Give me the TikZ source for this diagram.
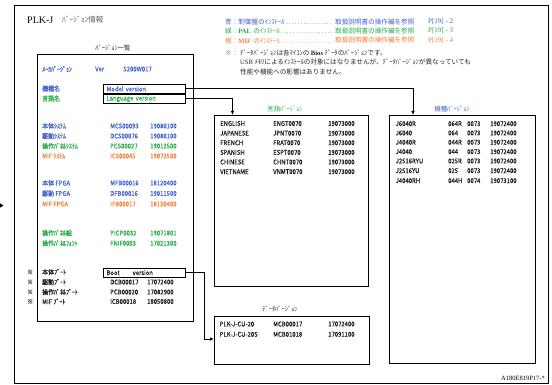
\documentclass[tikz,border=0pt]{standalone}
\usepackage{fontspec}
\setmainfont{Noto Sans CJK JP}
\newfontfamily\nar[FakeStretch=0.9,FakeBold=0.2]{Noto Sans CJK JP}
\newfontfamily\lgf{Noto Sans CJK JP}
\newfontfamily\ser{Liberation Serif}
\usetikzlibrary{arrows.meta}
\definecolor{blueT}{RGB}{65,95,205}
\definecolor{greenT}{RGB}{35,170,70}
\definecolor{orangeT}{RGB}{245,125,50}
\definecolor{grayT}{RGB}{90,90,90}
\begin{document}
\begin{tikzpicture}[x=1pt,y=-1pt,
  txt/.style={anchor=west,inner sep=0pt,font=\nar\fontsize{6.6}{7}\selectfont},
  bl/.style={txt,text=blueT},
  gr/.style={txt,text=greenT},
  og/.style={txt,text=orangeT},
  dk/.style={txt,text=black!90},
  lg/.style={anchor=west,inner sep=0pt,font=\lgf\fontsize{6.6}{7}\selectfont},
  bigbox/.style={draw,line width=1.1pt,anchor=north west,inner sep=0pt},
  vbox/.style={draw,line width=0.9pt,anchor=north west,inner xsep=3pt,inner ysep=0pt,
    text width=76pt,minimum height=8.7pt,align=left,font=\nar\fontsize{6.6}{7}\selectfont},
  boxcap/.style={inner sep=0pt,font=\lgf\fontsize{6.4}{7}\selectfont},
  arr/.style={line width=1pt,-{Latex[length=4pt,width=3.6pt]}},
]
\useasboundingbox (0,0) rectangle (552,385);
% outer frame
\node[draw,line width=1.4pt,anchor=north west,inner sep=0pt,minimum width=534pt,minimum height=378pt] (frame) at (14,5) {};
% small arrowhead at left edge
\coordinate (lefttip) at (3.5,205.5);
\fill (lefttip) -- ++(-3.5,-2.2) -- ++(0,4.4) -- cycle;

% title
\node[anchor=west,inner sep=0pt,font=\ser\fontsize{10}{12}\selectfont] (title) at (27,20) {PLK-J};
\node[anchor=west,inner sep=0pt,text=grayT,font=\lgf\fontsize{7.5}{9}\selectfont] (title2) at (62,20) {ﾊﾞｰｼﾞｮﾝ情報};

% legend
\node[lg,text=blueT,text width=108pt] (lg1) at (225,22) {青：制御盤のｲﾝｽﾄｰﾙ\dotfill};
\node[lg,text=greenT,text width=108pt] (lg2) at (225,31) {緑：\textbf{\ser PAL} のｲﾝｽﾄｰﾙ\dotfill};
\node[lg,text=orangeT,text width=108pt] (lg3) at (225,40.5) {橙：\textbf{\ser MIF} のｲﾝｽﾄｰﾙ\dotfill};
\node[lg,text=blueT] (lr1) at (335,22) {取扱説明書の操作編を参照};
\node[lg,text=greenT] (lr2) at (335,31) {取扱説明書の操作編を参照};
\node[lg,text=orangeT] (lr3) at (335,40.5) {取扱説明書の操作編を参照};
\node[lg,text=blueT,font=\ser\fontsize{7}{8}\selectfont] (lp1) at (428,22) {P[19] - 2};
\node[lg,text=greenT,font=\ser\fontsize{7}{8}\selectfont] (lp2) at (428,31) {P[19] - 3};
\node[lg,text=orangeT,font=\ser\fontsize{7}{8}\selectfont] (lp3) at (428,40.5) {P[19] - 4};
\node[lg,text=grayT] (nmark) at (225,53) {※：};
\node[lg,text=black!85] (n1) at (240,53) {ﾃﾞｰﾀﾊﾞｰｼﾞｮﾝは各ﾏｲｺﾝの {\ser\bfseries Bios} ﾃﾞｰﾀのﾊﾞｰｼﾞｮﾝです。};
\node[lg,text=black!85] (n2) at (240,62) {{\ser USB} ﾒﾓﾘによるｲﾝｽﾄｰﾙの対象にはなりませんが、ﾃﾞｰﾀﾊﾞｰｼﾞｮﾝが異なっていても};
\node[lg,text=black!85] (n3) at (240,71.5) {性能や機能への影響はありません。};

% ===== left list box =====
\node[boxcap,text=black!85] (listcap) at (113,48) {ﾊﾞｰｼﾞｮﾝ一覧};
\node[bigbox,minimum width=156pt,minimum height=267pt] (listbox) at (37,54) {};
\node[bl] (mk) at (42,69) {ﾒｰｶﾊﾞｰｼﾞｮﾝ};
\node[bl] (mkv) at (95,69) {Ver};
\node[bl] (mkc) at (123,69) {S200W017};
\node[bl] (kishu) at (42,88.5) {機種名};
\node[gr] (gengo) at (42,98.5) {言語名};
\node[vbox,text=blueT] (modelv) at (103,84) {Model version};
\node[vbox,text=greenT] (langv) at (103,94) {Language version};

\node[bl] (a1) at (42,126) {本体ｼｽﾃﾑ};   \node[bl] (a1c) at (110,126) {MCS00093}; \node[bl] (a1d) at (150,126) {19080100};
\node[bl] (a2) at (42,136) {駆動ｼｽﾃﾑ};   \node[bl] (a2c) at (110,136) {DCS00076}; \node[bl] (a2d) at (150,136) {19080100};
\node[gr] (a3) at (42,146) {操作ﾊﾟﾈﾙｼｽﾃﾑ}; \node[gr] (a3c) at (110,146) {PCS00027}; \node[gr] (a3d) at (150,146) {19012500};
\node[og] (a4) at (42,156) {MIF ｼｽﾃﾑ};   \node[og] (a4c) at (110,156) {ICS00045}; \node[og] (a4d) at (150,156) {19072500};

\node[bl] (b1) at (42,183) {本体 FPGA};  \node[bl] (b1c) at (110,183) {MFB00016}; \node[bl] (b1d) at (150,183) {18120400};
\node[bl] (b2) at (42,193.5) {駆動 FPGA};  \node[bl] (b2c) at (110,193.5) {DFB00016}; \node[bl] (b2d) at (150,193.5) {19011500};
\node[og] (b3) at (42,204) {MIF FPGA};  \node[og] (b3c) at (110,204) {IFB00017}; \node[og] (b3d) at (150,204) {18120400};

\node[gr] (c1) at (42,233) {操作ﾊﾟﾈﾙ絵};   \node[gr] (c1c) at (110,233) {PICP0032}; \node[gr] (c1d) at (150,233) {19071801};
\node[gr] (c2) at (42,243.3) {操作ﾊﾟﾈﾙﾌｫﾝﾄ}; \node[gr] (c2c) at (110,243.3) {FNIF0003}; \node[gr] (c2d) at (150,243.3) {17021300};

\node[txt,text=grayT] (s1) at (27,272) {※}; \node[dk] (d1) at (42,272) {本体ﾌﾞｰﾄ};
\node[vbox,text=black!90] (bootv) at (103,267.8) {Boot\hspace{13pt}version};
\node[txt,text=grayT] (s2) at (27,282) {※}; \node[dk] (d2) at (42,282) {駆動ﾌﾞｰﾄ};   \node[dk] (d2c) at (110,282) {DCB00017}; \node[dk] (d2d) at (147,282) {17072400};
\node[txt,text=grayT] (s3) at (27,292) {※}; \node[dk] (d3) at (42,292) {操作ﾊﾟﾈﾙﾌﾞｰﾄ}; \node[dk] (d3c) at (110,292) {PCB00020}; \node[dk] (d3d) at (147,292) {17082900};
\node[txt,text=grayT] (s4) at (27,301.5) {※}; \node[dk] (d4) at (42,301.5) {MIF ﾌﾞｰﾄ};  \node[dk] (d4c) at (110,301.5) {ICB00018}; \node[dk] (d4d) at (147,301.5) {18050800};

% ===== language box =====
\node[boxcap,text=greenT] (langcap) at (285,109) {言語ﾊﾞｰｼﾞｮﾝ};
\node[bigbox,minimum width=154pt,minimum height=171pt] (langbox) at (214,115) {};
\foreach \n/\a/\b/\yy in {1/ENGLISH/ENGT0070/123.5, 2/JAPANESE/JPNT0070/133.2, 3/FRENCH/FRAT0070/142.8,
    4/SPANISH/ESPT0070/152.4, 5/CHINESE/CHNT0070/162, 6/VIETNAME/VNMT0070/171.7}{
  \node[dk] (l\n a) at (220,\yy) {\a};
  \node[dk] (l\n b) at (273,\yy) {\b};
  \node[dk] (l\n c) at (328,\yy) {19073000};
}

% ===== model box =====
\node[boxcap,text=blueT] (modcap) at (452,109) {機種ﾊﾞｰｼﾞｮﾝ};
\node[bigbox,minimum width=146pt,minimum height=248pt] (modbox) at (389,115) {};
\foreach \n/\a/\b/\c/\d/\yy in {1/J6040R/064R/0073/19072400/123.7, 2/J6040/064/0073/19072400/133,
    3/J4040R/044R/0073/19072400/142.3, 4/J4040/044/0073/19072400/151.7, 5/J2516RYU/025R/0073/19072400/161,
    6/J2516YU/025/0073/19072400/170.7, 7/J4040RH/044H/0074/19073100/180.7}{
  \node[dk] (m\n a) at (395.5,\yy) {\a};
  \node[dk] (m\n b) at (448,\yy) {\b};
  \node[dk] (m\n c) at (467,\yy) {\c};
  \node[dk] (m\n d) at (490,\yy) {\d};
}

% ===== boot (data) box =====
\node[boxcap,text=black!85] (bootcap) at (280,309) {ﾃﾞｰﾀﾊﾞｰｼﾞｮﾝ};
\node[bigbox,minimum width=155pt,minimum height=48pt] (bootbox) at (214,316) {};
\node[dk] (p1a) at (219.5,324) {PLK-J-CU-20};  \node[dk] (p1b) at (273,324) {MCB00017}; \node[dk] (p1c) at (328,324) {17072400};
\node[dk] (p2a) at (219.5,334.3) {PLK-J-CU-20S}; \node[dk] (p2b) at (273,334.3) {MCB01018}; \node[dk] (p2c) at (328,334.3) {17091100};

% footer
\node[anchor=east,inner sep=0pt,font=\ser\fontsize{6.5}{7}\selectfont] (foot) at (545,378) {A180E819P17-*};

% ===== connectors =====
\coordinate (modin) at (413,115);
\coordinate (langin) at (232.5,115);
\coordinate (bootturn) at (204,339);
\draw[arr] (modelv.east) -| (modin);
\draw[arr] (langv.east) -| (langin);
\draw[line width=1pt] (bootv.east) -| (bootturn);
\draw[arr] (bootturn) -- (bootturn -| bootbox.west);
\end{tikzpicture}
\end{document}
